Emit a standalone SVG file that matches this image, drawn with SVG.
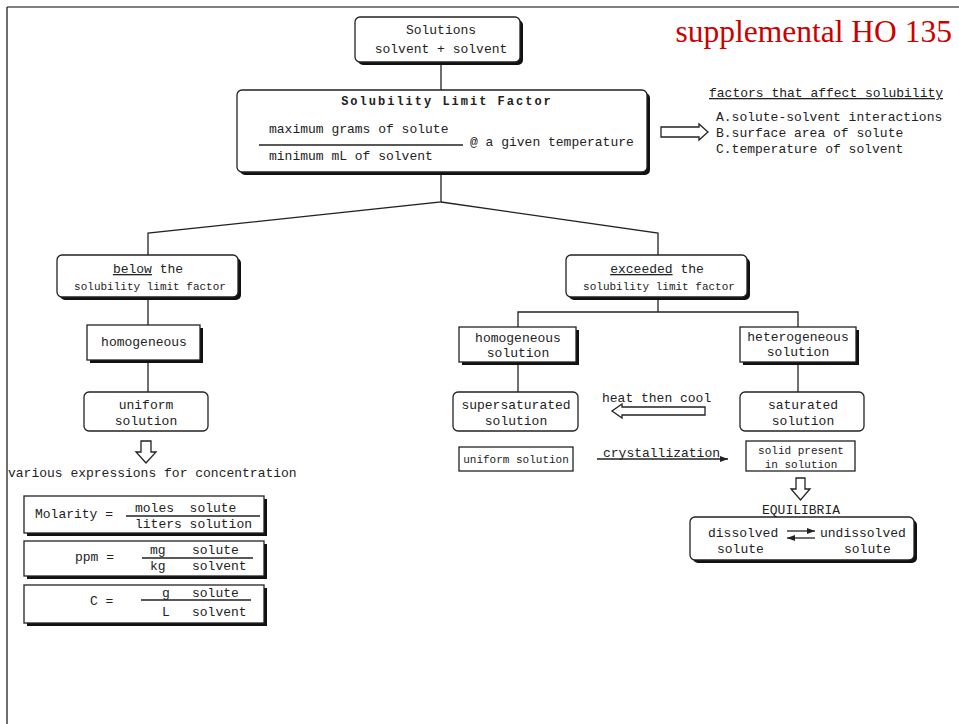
<svg xmlns="http://www.w3.org/2000/svg" width="959" height="724" viewBox="0 0 959 724">
<style>
text{font-family:"Liberation Mono","DejaVu Sans Mono",monospace;font-size:13px;fill:#222}
.s{font-size:11px}
.c{text-anchor:middle}
.box{fill:#fff;stroke:#222;stroke-width:1.3}
.sh{fill:#111}
.ln{stroke:#222;stroke-width:1.3;fill:none}
.hol{fill:#fff;stroke:#222;stroke-width:1.3}
</style>
<defs>
<marker id="ah" markerWidth="8" markerHeight="6" refX="8" refY="3" orient="auto" markerUnits="userSpaceOnUse">
<path d="M0,0 L8,3 L0,6 Z" fill="#222"/>
</marker>
</defs>
<rect width="959" height="724" fill="#fff"/>
<line x1="7" y1="7" x2="959" y2="7" stroke="#808080" stroke-width="2"/>
<line x1="7" y1="7" x2="7" y2="724" stroke="#222" stroke-width="1.3"/>
<text x="952" y="42" style="font-family:'Liberation Serif',serif;font-size:31.5px;fill:#cc0000;text-anchor:end">supplemental HO 135</text>

<g id="connectors">
<line class="ln" x1="441" y1="62" x2="441" y2="90"/>
<polyline class="ln" points="441,172 441,202 148,233 148,255"/>
<polyline class="ln" points="441,202 658,233 658,255"/>
<line class="ln" x1="148" y1="297" x2="148" y2="325"/>
<line class="ln" x1="148" y1="360" x2="148" y2="392"/>
<line class="ln" x1="658" y1="297" x2="658" y2="312"/>
<polyline class="ln" points="518,327 518,312 798,312 798,327"/>
<line class="ln" x1="518" y1="362" x2="518" y2="392"/>
<line class="ln" x1="798" y1="362" x2="798" y2="392"/>
<path class="hol" d="M661,127 L699,127 L699,124 L708,132 L699,140 L699,137 L661,137 Z"/>
<path class="hol" d="M141,441 L151,441 L151,452 L156,452 L146,463 L136,452 L141,452 Z"/>
<path class="hol" d="M705,407 L622,407 L622,404 L612,411 L622,418 L622,415 L705,415 Z"/>
<path class="hol" d="M796,478 L805,478 L805,489 L810,489 L800.5,500 L791,489 L796,489 Z"/>
<line class="ln" x1="597" y1="459" x2="728" y2="459" marker-end="url(#ah)"/>
</g>

<g id="solutions">
<rect class="sh" x="358" y="20" width="165" height="45" rx="5"/>
<rect class="box" x="355" y="17" width="165" height="45" rx="5"/>
<text class="c" x="441" y="34">Solutions</text>
<text class="c" x="441" y="53">solvent + solvent</text>
</g>

<g id="limit-factor">
<rect class="sh" x="240" y="93" width="410" height="82" rx="5"/>
<rect class="box" x="237" y="90" width="410" height="82" rx="5"/>
<text class="c" x="447" y="105" style="font-weight:bold;font-size:12px;letter-spacing:2px">Solubility Limit Factor</text>
<text x="269" y="133">maximum grams of solute</text>
<line class="ln" x1="259" y1="145" x2="463" y2="145"/>
<text x="269" y="160">minimum mL of solvent</text>
<text x="470" y="146">@ a given temperature</text>
</g>

<g id="factors">
<text x="709" y="97" style="text-decoration:underline">factors that affect solubility</text>
<text x="716" y="121">A.solute-solvent interactions</text>
<text x="716" y="137">B.surface area of solute</text>
<text x="716" y="153">C.temperature of solvent</text>
</g>

<g id="below">
<rect class="sh" x="60" y="258" width="181" height="42" rx="5"/>
<rect class="box" x="57" y="255" width="181" height="42" rx="5"/>
<text class="c" x="148" y="273"><tspan style="text-decoration:underline">below</tspan> the</text>
<text class="c s" x="150" y="290">solubility limit factor</text>
</g>

<g id="homogeneous-left">
<rect class="sh" x="90" y="328" width="113" height="35"/>
<rect class="box" x="87" y="325" width="113" height="35"/>
<text class="c" x="144" y="346">homogeneous</text>
</g>

<g id="uniform-left">
<rect class="box" x="84" y="392" width="124" height="39" rx="5"/>
<text class="c" x="146" y="409">uniform</text>
<text class="c" x="146" y="425">solution</text>
</g>

<text x="8" y="477">various expressions for concentration</text>

<g id="molarity">
<rect class="sh" x="27" y="499" width="240" height="37"/>
<rect class="box" x="24" y="496" width="240" height="37"/>
<text x="35" y="518">Molarity =</text>
<text x="135" y="512" xml:space="preserve">moles  solute</text>
<line class="ln" x1="126" y1="516" x2="260" y2="516"/>
<text x="135" y="528">liters solution</text>
</g>

<g id="ppm">
<rect class="sh" x="27" y="544" width="240" height="35"/>
<rect class="box" x="24" y="541" width="240" height="35"/>
<text x="75" y="561">ppm =</text>
<text x="150" y="554">mg</text>
<text x="192" y="554">solute</text>
<line class="ln" x1="142" y1="558" x2="253" y2="558"/>
<text x="150" y="570">kg</text>
<text x="192" y="570">solvent</text>
</g>

<g id="conc">
<rect class="sh" x="27" y="588" width="240" height="38"/>
<rect class="box" x="24" y="585" width="240" height="38"/>
<text x="90" y="605">C =</text>
<text x="162" y="597">g</text>
<text x="192" y="597">solute</text>
<line class="ln" x1="141" y1="600" x2="251" y2="600"/>
<text x="162" y="616">L</text>
<text x="192" y="616">solvent</text>
</g>

<g id="exceeded">
<rect class="sh" x="569" y="258" width="181" height="42" rx="5"/>
<rect class="box" x="566" y="255" width="181" height="42" rx="5"/>
<text class="c" x="657" y="273"><tspan style="text-decoration:underline">exceeded</tspan> the</text>
<text class="c s" x="659" y="290">solubility limit factor</text>
</g>

<g id="homogeneous-solution">
<rect class="sh" x="462" y="330" width="117" height="35"/>
<rect class="box" x="459" y="327" width="117" height="35"/>
<text class="c" x="518" y="342">homogeneous</text>
<text class="c" x="518" y="357">solution</text>
</g>

<g id="heterogeneous-solution">
<rect class="sh" x="743" y="330" width="116" height="35"/>
<rect class="box" x="740" y="327" width="116" height="35"/>
<text class="c" x="798" y="341">heterogeneous</text>
<text class="c" x="798" y="356">solution</text>
</g>

<g id="supersaturated">
<rect class="box" x="453" y="392" width="125" height="39" rx="5"/>
<text class="c" x="516" y="409">supersaturated</text>
<text class="c" x="516" y="425">solution</text>
</g>

<g id="saturated">
<rect class="box" x="740" y="392" width="124" height="39" rx="5"/>
<text class="c" x="803" y="409">saturated</text>
<text class="c" x="803" y="425">solution</text>
</g>

<text x="602" y="402">heat then cool</text>
<text x="603" y="457">crystallization</text>

<g id="uniform-solution">
<rect class="box" x="459" y="447" width="114" height="24"/>
<text class="c s" x="516" y="463">uniform solution</text>
</g>

<g id="solid-present">
<rect class="box" x="746" y="441" width="109" height="30"/>
<text class="c s" x="801" y="454">solid present</text>
<text class="c s" x="801" y="468">in solution</text>
</g>

<text class="c" x="801" y="514">EQUILIBRIA</text>

<g id="equilibria">
<rect class="sh" x="693" y="520" width="224" height="43" rx="5"/>
<rect class="box" x="690" y="517" width="224" height="43" rx="5"/>
<text x="708" y="537">dissolved</text>
<text x="717" y="553">solute</text>
<text x="820" y="537">undissolved</text>
<text x="844" y="553">solute</text>
<line class="ln" x1="787" y1="531" x2="815" y2="531" marker-end="url(#ah)"/>
<line class="ln" x1="815" y1="538" x2="787" y2="538" marker-end="url(#ah)"/>
</g>
</svg>
